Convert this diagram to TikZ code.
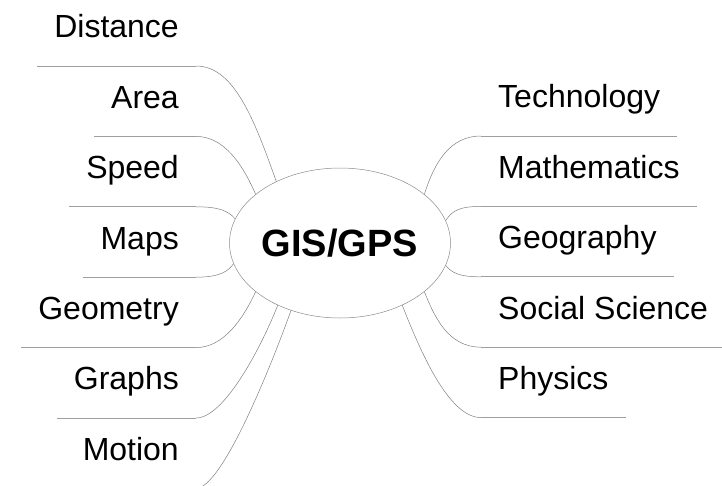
\documentclass[tikz,border=0pt]{standalone}
\usepackage{fontspec}
\setmainfont{Liberation Sans}
\usetikzlibrary{shapes,positioning}
\tikzstyle{hub} = [ellipse,draw=gray!90,line width=0.5pt,fill=white,minimum width=201pt,minimum height=150pt,inner sep=0pt,font=\fontsize{38}{44}\selectfont\bfseries]

\begin{document}
\begin{tikzpicture}
		[
		x=1pt,y=-1pt,
		topic/.style={
		inner xsep=17pt,
		inner ysep=0pt,
		text height=24pt,
		text depth=28pt,
		font=\fontsize{32}{36}\selectfont},
		rule/.style={draw=gray!75,line width=1pt},
		link/.style={draw=gray,line width=0.5pt}
		]
		\useasboundingbox (0,0) rectangle (722,485);
		% left column
		\node[topic,anchor=south east] (dist) at (196,66) {Distance};
		\node[topic,below=18pt of dist.south east,anchor=north east] (area) {Area};
		\node[topic,below=18pt of area.south east,anchor=north east] (speed) {Speed};
		\node[topic,below=18pt of speed.south east,anchor=north east] (maps) {Maps};
		\node[topic,below=18pt of maps.south east,anchor=north east] (geom) {Geometry};
		\node[topic,below=18pt of geom.south east,anchor=north east] (graphs) {Graphs};
		\node[topic,below=18pt of graphs.south east,anchor=north east] (motion) {Motion};
		% right column
		\node[topic,anchor=south west] (tech) at (481,136) {Technology};
		\node[topic,below=18pt of tech.south west,anchor=north west] (math) {Mathematics};
		\node[topic,below=18pt of math.south west,anchor=north west] (geog) {Geography};
		\node[topic,below=18pt of geog.south west,anchor=north west] (social) {Social Science};
		\node[topic,below=18pt of social.south west,anchor=north west] (phys) {Physics};
		% centre
		\node[hub] (gis) at (340,243) {GIS/GPS};
		% underlines
		\draw[rule] (dist.south west) -- (dist.south east);
		\draw[rule] (area.south west) -- (area.south east);
		\draw[rule] (speed.south west) -- (speed.south east);
		\draw[rule] (maps.south west) -- (maps.south east);
		\draw[rule] (geom.south west) -- (geom.south east);
		\draw[rule] (graphs.south west) -- (graphs.south east);
		\draw[rule] (tech.south west) -- (tech.south east);
		\draw[rule] (math.south west) -- (math.south east);
		\draw[rule] (geog.south west) -- (geog.south east);
		\draw[rule] (social.south west) -- (social.south east);
		\draw[rule] (phys.south west) -- (phys.south east);
		% branches
		\draw[link] (dist.south east) .. controls +(38,0) and +(-22,-62) .. (gis.136);
		\draw[link] (area.south east) .. controls +(28,0) and +(-13,-30) .. (gis.150);
		\draw[link] (speed.south east) .. controls +(23,0) and +(-7,-8) .. (gis.167);
		\draw[link] (maps.south east) .. controls +(25,0) and +(-5,7) .. (gis.191);
		\draw[link] (geom.south east) .. controls +(28,0) and +(-12,26) .. (gis.210);
		\draw[link] (graphs.south east) .. controls +(28,0) and +(-17,43) .. (gis.225);
		\draw[link] (motion.south east) .. controls +(26,0) and +(-20,56) .. (gis.234);
		\draw[link] (tech.south west) .. controls +(-31,0) and +(10,-32) .. (gis.30);
		\draw[link] (math.south west) .. controls +(-23,0) and +(6,-9) .. (gis.12);
		\draw[link] (geog.south west) .. controls +(-23,0) and +(6,7) .. (gis.348);
		\draw[link] (social.south west) .. controls +(-33,0) and +(10,25) .. (gis.330);
		\draw[link] (phys.south west) .. controls +(-33,0) and +(17,43) .. (gis.315);
		\end{tikzpicture}
\end{document}
